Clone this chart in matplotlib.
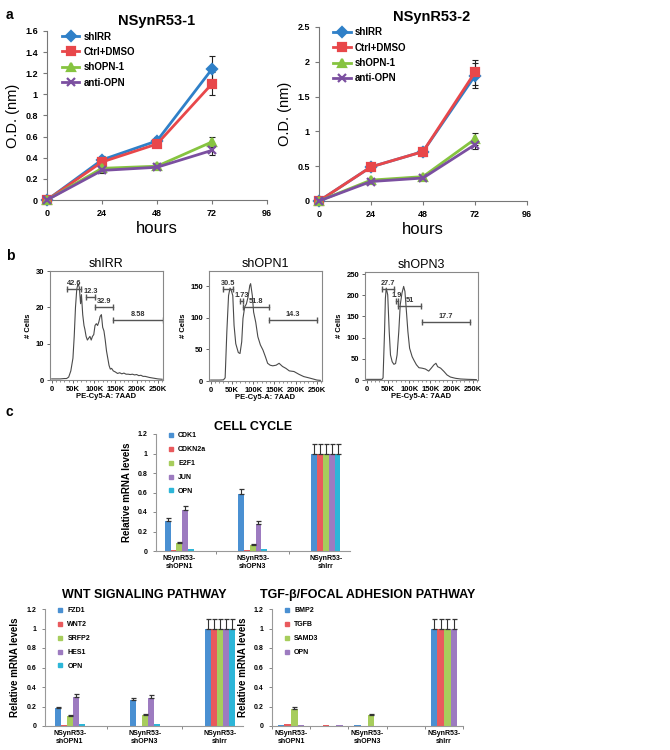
import numpy as np
import matplotlib
matplotlib.use('Agg')
import matplotlib.pyplot as plt
from matplotlib.lines import Line2D

plt.rcParams['font.family'] = ['Liberation Sans', 'DejaVu Sans']

# ---- panel a: growth curves ----
hours = [0, 24, 48, 72]
a_names = ['shIRR', 'Ctrl+DMSO', 'shOPN-1', 'anti-OPN']
a_colors = ['#2f80c8', '#e8474a', '#86c440', '#7b4fa0']
a_markers = ['D', 's', '^', 'x']

od1_shirr = [0, 0.38, 0.56, 1.24]
od1_ctrl = [0, 0.36, 0.53, 1.10]
od1_shopn = [0, 0.30, 0.32, 0.55]
od1_anti = [0, 0.28, 0.31, 0.47]
err1_shirr = [0, 0.04, 0.04, 0.12]
err1_ctrl = [0, 0.03, 0.03, 0.11]
err1_shopn = [0, 0.03, 0.03, 0.05]
err1_anti = [0, 0.02, 0.02, 0.04]

od2_shirr = [0, 0.49, 0.71, 1.80]
od2_ctrl = [0, 0.49, 0.71, 1.85]
od2_shopn = [0, 0.30, 0.35, 0.89]
od2_anti = [0, 0.28, 0.33, 0.81]
err2_shirr = [0, 0.03, 0.05, 0.18]
err2_ctrl = [0, 0.03, 0.06, 0.18]
err2_shopn = [0, 0.03, 0.03, 0.09]
err2_anti = [0, 0.02, 0.03, 0.07]

# ---- panel b: cell-cycle histograms (x in K) ----
irr_x = [0, 10, 20, 30, 35, 40, 45, 50, 53, 56, 59, 62, 65, 68, 70, 73, 76, 78, 81, 84,
         87, 90, 93, 96, 99, 102, 105, 108, 111, 114, 117, 120, 123, 126, 129, 132, 135,
         138, 141, 145, 150, 155, 160, 165, 170, 175, 180, 185, 190, 195, 200, 205, 210,
         215, 220, 230, 240, 250, 260]
irr_y = [0.3, 0.3, 0.3, 0.4, 0.4, 0.8, 2.5, 6, 12, 20, 25, 26.5, 25.5, 21, 23.5, 18, 15,
         14, 12, 11, 11.5, 12, 11, 12, 12.5, 15, 15.5, 15, 16, 17.5, 18, 14.5, 13.5, 11,
         8, 6, 4, 3, 3.2, 2.5, 2.2, 1.8, 2, 1.7, 1.9, 1.6, 1.6, 1.5, 1.6, 1.4, 1.5, 1.2,
         1.3, 1.0, 1.0, 0.7, 0.5, 0.3, 0.2]
opn1_x = [0, 10, 20, 30, 34, 38, 42, 45.5, 49, 52, 55, 59, 65, 69, 73, 76, 80, 84, 88, 92,
          94, 98, 101, 106, 111, 117, 123, 129, 134, 140, 146, 154, 161, 169, 177, 185,
          196, 208, 219, 231, 242, 250, 258]
opn1_y = [1.5, 1.5, 1.5, 1.8, 5, 78, 135, 147, 142, 135, 88, 59, 45, 43.5, 62, 99, 117,
          122, 133, 151, 154, 135, 109, 93, 70, 57, 49, 38, 28, 25, 24, 25, 28, 23, 20, 16,
          15, 10.5, 7, 5, 3, 1.5, 1]
opn3_x = [0, 10, 20, 30, 36, 38.5, 42, 44, 46, 49.5, 53, 56, 60, 64, 68, 71.5, 75.5, 79,
          83, 87, 90, 93.5, 97, 101, 107, 111, 117, 123, 130, 138, 146, 152, 158, 163,
          167, 174, 182, 189, 197, 209, 221, 237, 250, 258]
opn3_y = [1.5, 1.5, 1.5, 1.5, 1.6, 5, 114, 193, 217, 201, 114, 59, 43, 37, 39, 59, 114,
          178, 205, 221, 209, 162, 114, 75, 55, 47, 36, 29, 28, 26, 21, 28, 35.5, 39.5,
          31.5, 28, 20, 12, 7, 4, 2.4, 1.6, 1.2, 1]

# gates: low K, high K, height, label
irr_gates = [(37, 69, 25, '42.6'), (81, 101, 22.8, '12.3'), (102, 145, 20.2, '32.9'),
             (145, 261, 16.5, '8.58')]
opn1_gates = [(30, 53, 145, '30.5'), (70, 75, 127, '1.73'), (75, 137, 117, '51.8'),
              (137, 250, 97, '14.3')]
opn3_gates = [(36, 64, 215, '27.7'), (68, 73, 186, '1.9'), (73, 128, 174, '51'),
              (130, 244, 138, '17.7')]

# ---- panel c: qPCR ----
cats3 = ['NSynR53-\nshOPN1', 'NSynR53-\nshOPN3', 'NSynR53-\nshIrr']
cc_genes = ['CDK1', 'CDKN2a', 'E2F1', 'JUN', 'OPN']
cc_vals = [[0.31, 0.58, 1.0], [0.01, 0.01, 1.0], [0.08, 0.065, 1.0],
           [0.42, 0.28, 1.0], [0.02, 0.02, 1.0]]
cc_errs = [[0.03, 0.06, 0.1], [0, 0, 0.1], [0.01, 0.005, 0.1],
           [0.04, 0.03, 0.1], [0, 0, 0.1]]

wnt_genes = ['FZD1', 'WNT2', 'SRFP2', 'HES1', 'OPN']
wnt_vals = [[0.18, 0.27, 1.0], [0.01, 0.0, 1.0], [0.10, 0.11, 1.0],
            [0.30, 0.29, 1.0], [0.02, 0.02, 1.0]]
wnt_errs = [[0.015, 0.02, 0.1], [0, 0, 0.1], [0.01, 0.01, 0.1],
            [0.03, 0.03, 0.1], [0, 0, 0.1]]

cats5 = ['NSynR53-\nshOPN1', '', 'NSynR53-\nshOPN3', '', 'NSynR53-\nshIrr']
tgf_genes = ['BMP2', 'TGFB', 'SAMD3', 'OPN']
tgf_vals = [[0.015, 0.0, 0.015, 0, 1.0], [0.02, 0.015, 0.005, 0, 1.0],
            [0.17, 0.0, 0.11, 0, 1.0], [0.015, 0.015, 0.005, 0, 1.0]]
tgf_errs = [[0, 0, 0, 0, 0.1], [0, 0, 0, 0, 0.1],
            [0.02, 0, 0.01, 0, 0.1], [0, 0, 0, 0, 0.1]]

bar_colors = ['#4a90d2', '#e95a5d', '#a7cd5c', '#9d7bc0', '#2db6d8']

W, H = 670, 750
fig = plt.figure(figsize=(6.7, 7.5), dpi=100)


def box(x0, y0, x1, y1):
    return fig.add_axes([x0 / W, 1 - y1 / H, (x1 - x0) / W, (y1 - y0) / H])


def gfmt(v):
    return f'{v:g}'


def growth(ax, title, vals, errs, ymax, ystep, title_x):
    for v, e, c, m in zip(vals, errs, a_colors, a_markers):
        ax.errorbar(hours, v, yerr=e, fmt='none', ecolor='#222222', elinewidth=0.8,
                    capsize=2, capthick=0.8, zorder=2, clip_on=False)
    for v, c, m, nm in zip(vals, a_colors, a_markers, a_names):
        ax.plot(hours, v, color=c, marker=m, ms=5.5, mew=1.6, lw=2, label=nm,
                clip_on=False, zorder=3)
    ax.set_xlim(0, 96)
    ax.set_ylim(0, ymax)
    ax.set_xticks([0, 24, 48, 72, 96])
    yt = np.arange(0, ymax + 1e-9, ystep)
    ax.set_yticks(yt)
    ax.set_yticklabels([gfmt(round(t, 2)) for t in yt])
    for s in ['top', 'right']:
        ax.spines[s].set_visible(False)
    for s in ['left', 'bottom']:
        ax.spines[s].set_color('#777777')
    ax.tick_params(direction='out', length=3, width=0.8, color='#777777', labelsize=6.5)
    for lab in ax.get_xticklabels() + ax.get_yticklabels():
        lab.set_fontweight('bold')
    ax.set_title(title, fontsize=10.5, weight='bold', pad=4, x=title_x)
    ax.set_xlabel('hours', fontsize=12, labelpad=2)
    ax.set_ylabel('O.D. (nm)', fontsize=10.5, labelpad=4)
    ax.legend(loc='upper left', bbox_to_anchor=(0.05, 1.02), frameon=False,
              prop={'weight': 'bold', 'size': 7}, handlelength=1.8,
              labelspacing=0.55, borderaxespad=0, handletextpad=0.4)


ax = box(47, 31, 267, 200)
growth(ax, 'NSynR53-1', [od1_shirr, od1_ctrl, od1_shopn, od1_anti],
       [err1_shirr, err1_ctrl, err1_shopn, err1_anti], 1.6, 0.2, 0.5)
ax = box(319, 27, 527, 201)
growth(ax, 'NSynR53-2', [od2_shirr, od2_ctrl, od2_shopn, od2_anti],
       [err2_shirr, err2_ctrl, err2_shopn, err2_anti], 2.5, 0.5, 0.54)


def hist(ax, title, xs, ys, ymax, yticks, gates):
    ax.plot(xs, ys, color='#4a4a4a', lw=0.8)
    ax.set_xlim(-4, 262)
    ax.set_ylim(0, ymax)
    ax.set_xticks([0, 50, 100, 150, 200, 250])
    ax.set_xticklabels(['0', '50K', '100K', '150K', '200K', '250K'])
    ax.set_yticks(yticks)
    for s in ax.spines.values():
        s.set_color('#888888')
        s.set_linewidth(0.8)
    ax.tick_params(direction='out', length=2.5, width=0.7, color='#666666',
                   labelsize=5.5, pad=1.5)
    for lab in ax.get_xticklabels() + ax.get_yticklabels():
        lab.set_fontweight('bold')
    ax.xaxis.set_minor_locator(matplotlib.ticker.MultipleLocator(10))
    ax.tick_params(which='minor', direction='out', length=1.5, width=0.5, color='#666666')
    cap = ymax * 0.028
    for lo, hi, y, lab in gates:
        ax.plot([lo, hi], [y, y], color='#555555', lw=1.0)
        ax.vlines([lo, hi], y - cap, y + cap, color='#555555', lw=1.0)
        ax.text((lo + hi) / 2, y + cap * 0.6, lab, ha='center', va='bottom',
                fontsize=5.3, weight='bold', color='#333333')
    ax.set_title(title, fontsize=9, pad=3)
    ax.set_xlabel('PE-Cy5-A: 7AAD', fontsize=5.5, weight='bold', labelpad=0)
    ax.set_ylabel('# Cells', fontsize=5.5, weight='bold', labelpad=3)


ax = box(50, 271, 163, 380)
hist(ax, 'shIRR', irr_x, irr_y, 30, [0, 10, 20, 30], irr_gates)
ax = box(209, 271, 322, 381)
hist(ax, 'shOPN1', opn1_x, opn1_y, 174, [0, 50, 100, 150], opn1_gates)
ax = box(365, 272, 478, 380)
hist(ax, 'shOPN3', opn3_x, opn3_y, 255, [0, 50, 100, 150, 200, 250], opn3_gates)


def bars(ax, title, cats, genes, vals, errs, w, xlim, bounds, title_pad, lab_pad):
    n = len(genes)
    x = np.arange(len(cats))
    for i, (g, v, e, c) in enumerate(zip(genes, vals, errs, bar_colors)):
        pos = x + (i - (n - 1) / 2) * w
        ax.bar(pos, v, w, color=c, label=g, zorder=2, linewidth=0)
        e = np.array(e)
        v = np.array(v)
        m = e > 0
        ax.errorbar(pos[m], v[m], yerr=[np.zeros(m.sum()), e[m]], fmt='none',
                    ecolor='#333333', elinewidth=0.8, capsize=1.8, capthick=0.9, zorder=3)
    ax.set_xlim(*xlim)
    ax.set_ylim(0, 1.2)
    yt = [0, 0.2, 0.4, 0.6, 0.8, 1.0, 1.2]
    ax.set_yticks(yt)
    ax.set_yticklabels([gfmt(t) for t in yt])
    ax.set_xticks(x)
    ax.set_xticklabels(cats)
    ax.set_xticks(bounds, minor=True)
    ax.tick_params(axis='x', which='major', length=0, pad=3)
    ax.tick_params(axis='x', which='minor', direction='out', length=2.5, width=0.7,
                   color='#888888')
    ax.tick_params(axis='y', direction='out', length=2.5, width=0.7, color='#888888')
    ax.tick_params(labelsize=5)
    for lab in ax.get_xticklabels() + ax.get_yticklabels():
        lab.set_fontweight('bold')
    for s in ['top', 'right']:
        ax.spines[s].set_visible(False)
    for s in ['left', 'bottom']:
        ax.spines[s].set_color('#999999')
        ax.spines[s].set_linewidth(0.8)
    ax.set_title(title, fontsize=9, weight='bold', pad=title_pad)
    ax.set_ylabel('Relative mRNA levels', fontsize=7, weight='bold', labelpad=lab_pad)
    handles = [Line2D([], [], ls='none', marker='s', ms=3, color=c) for c in bar_colors[:n]]
    ax.legend(handles, genes, loc='upper left', bbox_to_anchor=(0.05, 1.04), frameon=False,
              prop={'weight': 'bold', 'size': 5}, handlelength=0.8, labelspacing=1.0,
              borderaxespad=0, handletextpad=0.6)


ax = box(156, 434, 350, 551)
bars(ax, 'CELL CYCLE', cats3, cc_genes, cc_vals, cc_errs, 0.08, (-0.32, 2.33),
     [0.5, 1.5], 3, 4)
ax = box(45, 609, 243, 726)
bars(ax, 'WNT SIGNALING PATHWAY', cats3, wnt_genes, wnt_vals, wnt_errs, 0.08,
     (-0.33, 2.31), [0.5, 1.5], 8, 5)
ax = box(272, 609, 463, 726)
bars(ax, 'TGF-β/FOCAL ADHESION PATHWAY', cats5, tgf_genes, tgf_vals, tgf_errs, 0.175,
     (-0.5, 4.5), [-0.5, 0.5, 1.5, 2.5, 3.5, 4.5], 8, 4)

# panel letters
for lab, y in [('a', 15), ('b', 256), ('c', 412)]:
    fig.text(6 / W, 1 - y / H, lab, fontsize=10, weight='bold', va='center')

fig.savefig('out.png', dpi=100)
